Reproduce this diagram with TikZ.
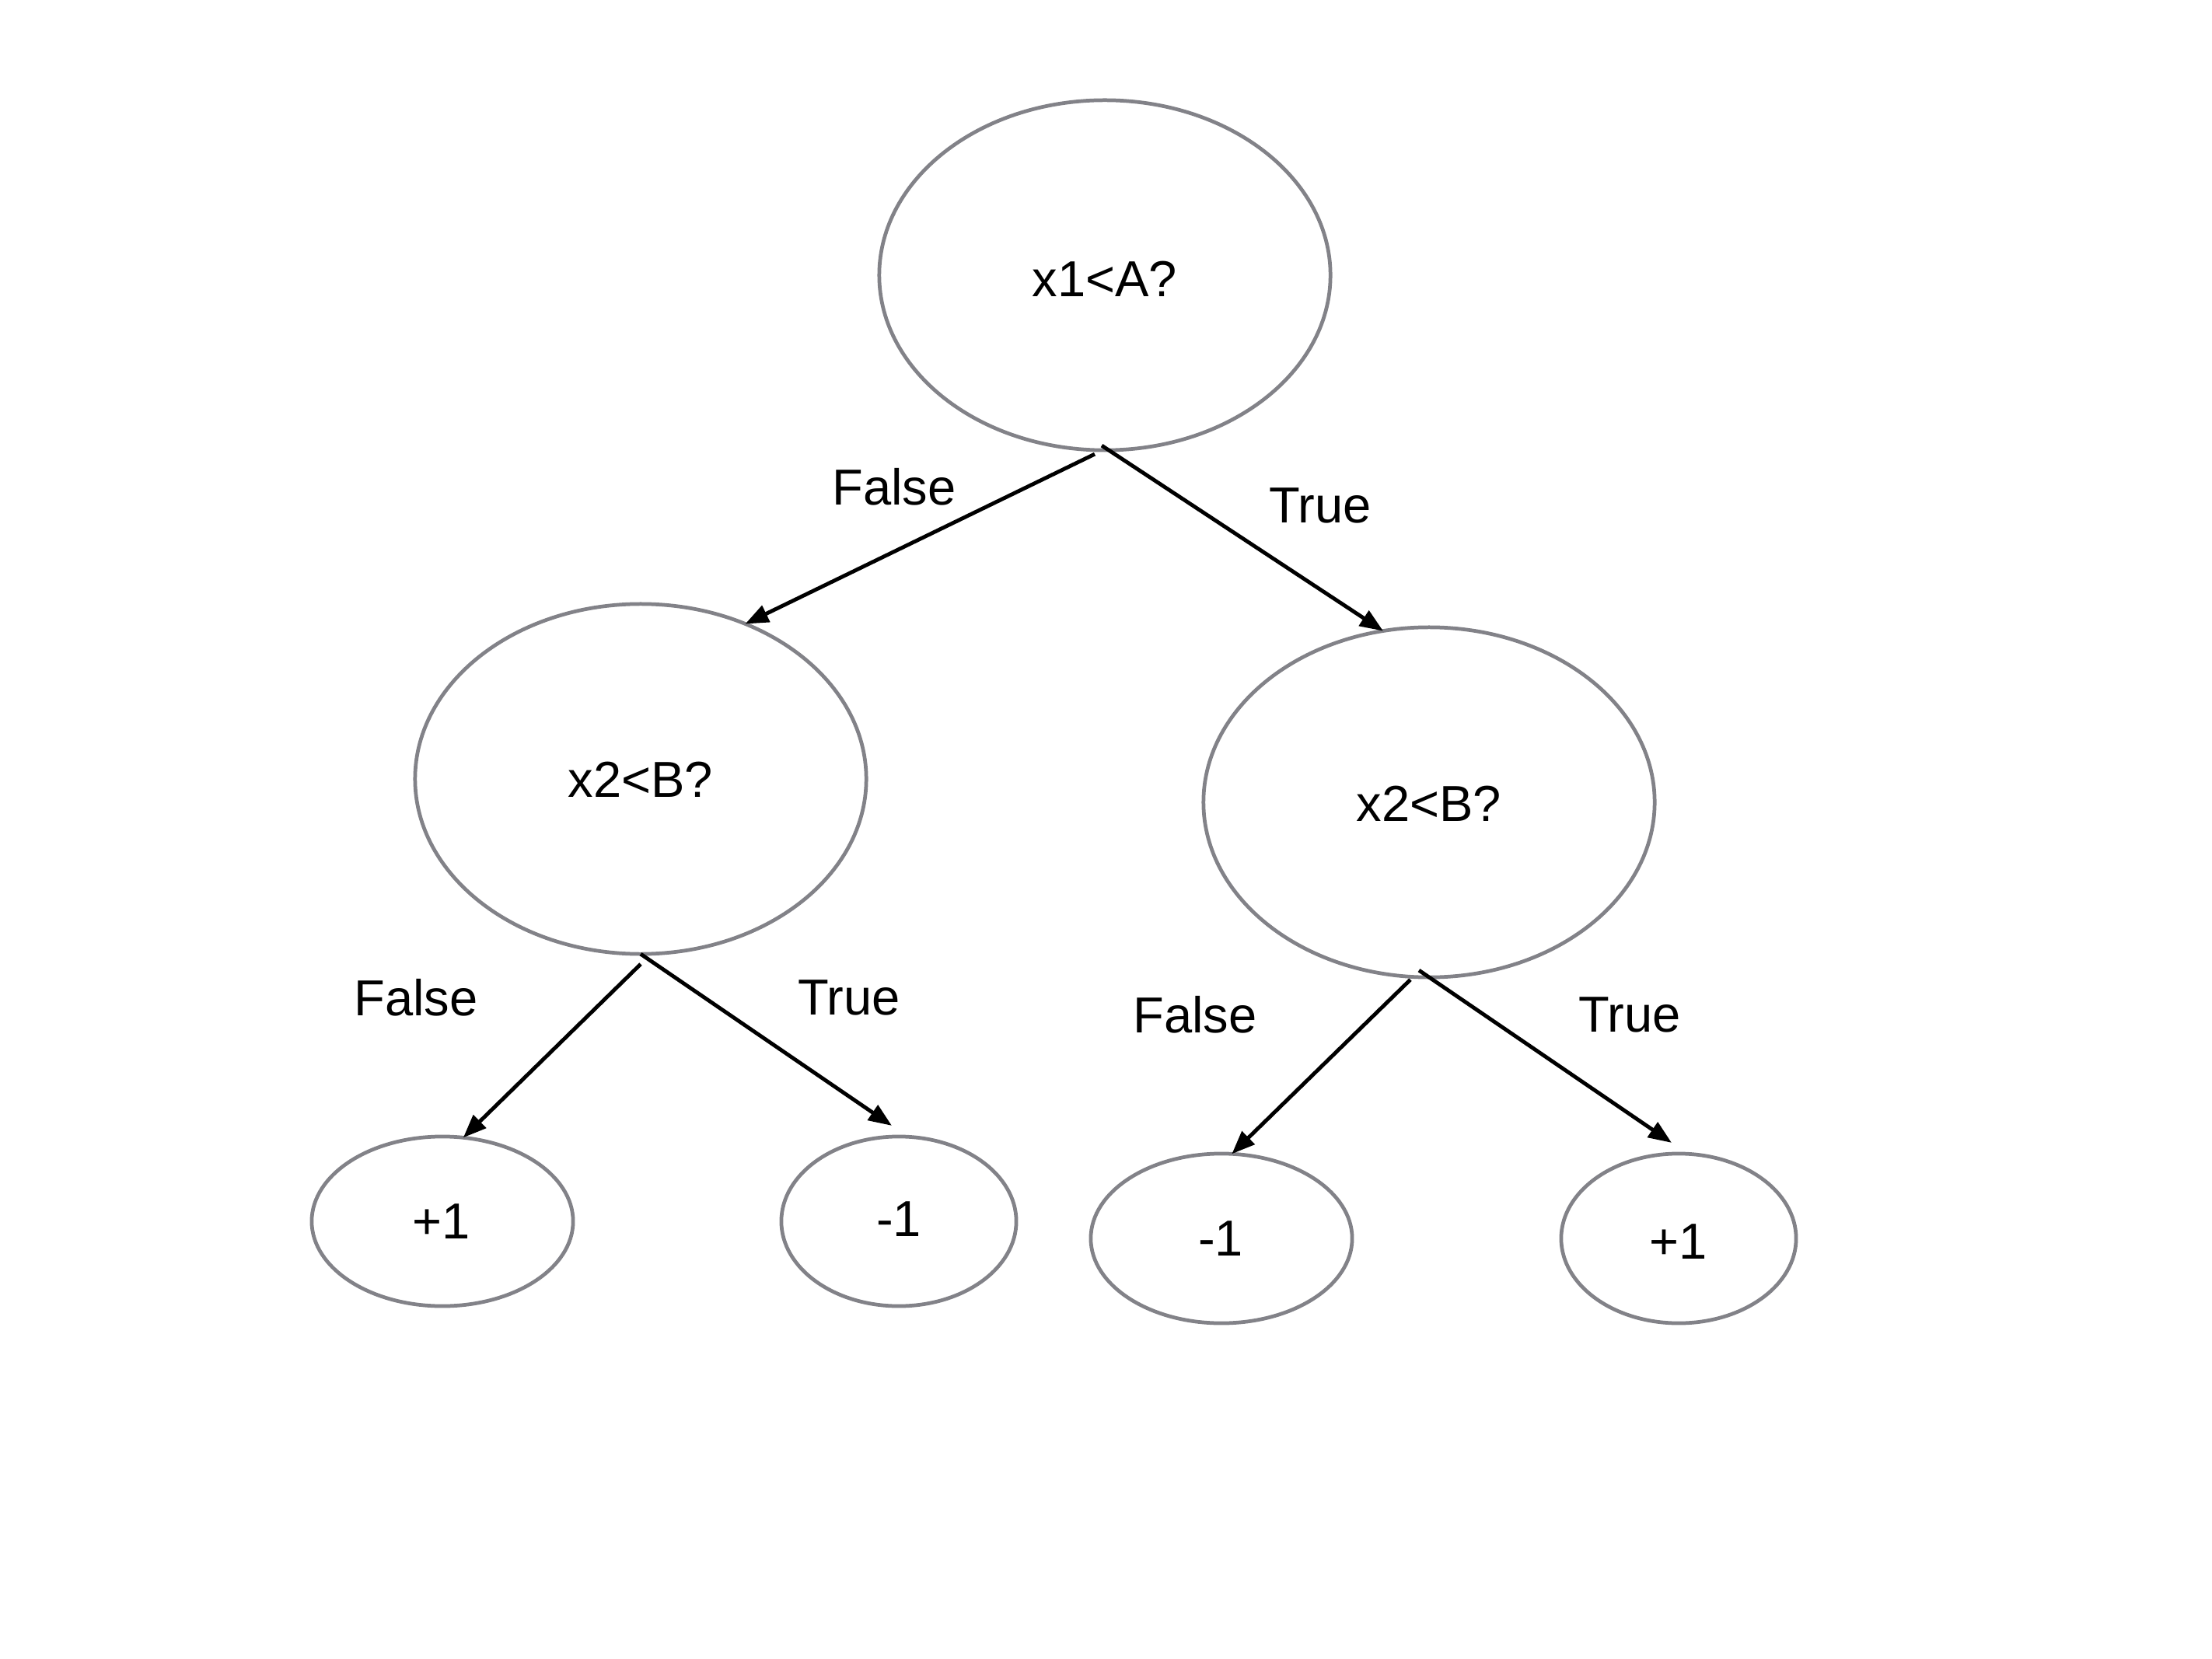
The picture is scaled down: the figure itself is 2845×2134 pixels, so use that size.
\documentclass[tikz,border=0pt]{standalone}
\usepackage{fontspec}
\setmainfont{Liberation Sans}
\usetikzlibrary{shapes.geometric,arrows.meta}
\definecolor{rim}{RGB}{130,130,136}
\begin{document}
\begin{tikzpicture}[x=0.01cm,y=-0.01cm,
  every node/.style={font=\fontsize{18.5}{22}\selectfont, text=black},
  bubble/.style={ellipse, draw=rim, line width=1.35pt, inner sep=0pt, outer sep=0pt},
  decision/.style={bubble, minimum width=5.8cm, minimum height=4.5cm},
  leafwide/.style={bubble, minimum width=3.36cm, minimum height=2.18cm},
  leafnarrow/.style={bubble, minimum width=3.02cm, minimum height=2.18cm},
  branch/.style={draw=black, line width=1.4pt, -{Triangle[length=8.5pt,width=6.5pt]}},
  tag/.style={inner sep=0pt}]
\useasboundingbox (0,0) rectangle (2845,2134);

% decision nodes
\node[decision] (root) at (1421,354) {};
\node (roottext) at (1421,359) {x1<A?};
\node[decision] (lmid) at (824,1002) {};
\node (lmidtext) at (824,1003) {x2<B?};
\node[decision] (rmid) at (1838,1032) {};
\node (rmidtext) at (1838,1034) {x2<B?};

% leaves
\node[leafwide] (leafa) at (569,1571) {};
\node (leafatext) at (568,1571) {+1};
\node[leafnarrow] (leafb) at (1156,1571) {};
\node (leafbtext) at (1156,1568) {-1};
\node[leafwide] (leafc) at (1571,1593) {};
\node (leafctext) at (1570,1593) {-1};
\node[leafnarrow] (leafd) at (2159,1593) {};
\node (leafdtext) at (2159,1597) {+1};

% branches
\draw[branch] ([xshift=-0.13cm,yshift=-0.05cm]root.south) -- (lmid.56.6);
\draw[branch] ([xshift=-0.04cm,yshift=0.06cm]root.south) -- (rmid.105);
\draw[branch] ([yshift=-0.13cm]lmid.south) -- (leafa.76.6);
\draw[branch] (lmid.south) -- ([xshift=-0.09cm,yshift=0.14cm]leafb.north);
\draw[branch] ([xshift=-0.24cm,yshift=-0.03cm]rmid.south) -- (leafc.83);
\draw[branch] ([xshift=-0.13cm,yshift=0.09cm]rmid.south) -- ([xshift=-0.09cm,yshift=0.14cm]leafd.north);

% branch labels
\node[tag] (f0) at (1150,626) {False};
\node[tag] (t0) at (1698,650) {True};
\node[tag] (f1) at (535,1283) {False};
\node[tag] (t1) at (1092,1283) {True};
\node[tag] (f2) at (1537,1305) {False};
\node[tag] (t2) at (2096,1305) {True};
\end{tikzpicture}
\end{document}
